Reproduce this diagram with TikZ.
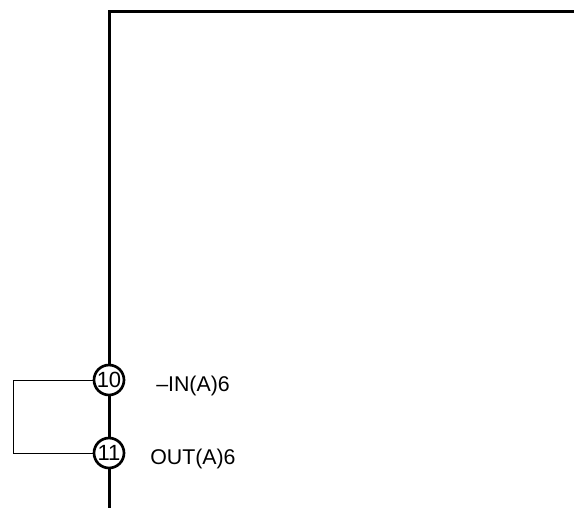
\documentclass[tikz,border=0pt]{standalone}
\usepackage{fontspec}
\setmainfont{Liberation Sans}
\tikzset{
  px/.style={x=0.75pt,y=-0.75pt},
  bus/.style={line width=2.25pt,line cap=butt},
  wire/.style={line width=0.7pt},
  pin/.style={circle,draw,line width=2pt,fill=white,minimum size=22.5pt,inner sep=0pt,font=\fontsize{16.5pt}{16.5pt}\selectfont},
  lbl/.style={anchor=base west,inner sep=0pt,font=\fontsize{16pt}{16pt}\selectfont}
}
\begin{document}
\begin{tikzpicture}[px]
\useasboundingbox (0,0) rectangle (574,508);
\coordinate (tr) at (574,11);
\coordinate (tl) at (109,11);
\coordinate (bot) at (109,508);
\coordinate (wl1) at (13,380);
\coordinate (wl2) at (13,453);
\draw[bus] (tr) -- (tl) -- (bot);
\node[pin] (p10) at (109,380) {10};
\node[pin] (p11) at (109,453) {11};
\draw[wire] (p10.west) -- (wl1) -- (wl2) -- (p11.west);
\node[lbl] (l10) at (156,391) {–IN(A)6};
\node[lbl] (l11) at (150,464) {OUT(A)6};
\end{tikzpicture}
\end{document}
